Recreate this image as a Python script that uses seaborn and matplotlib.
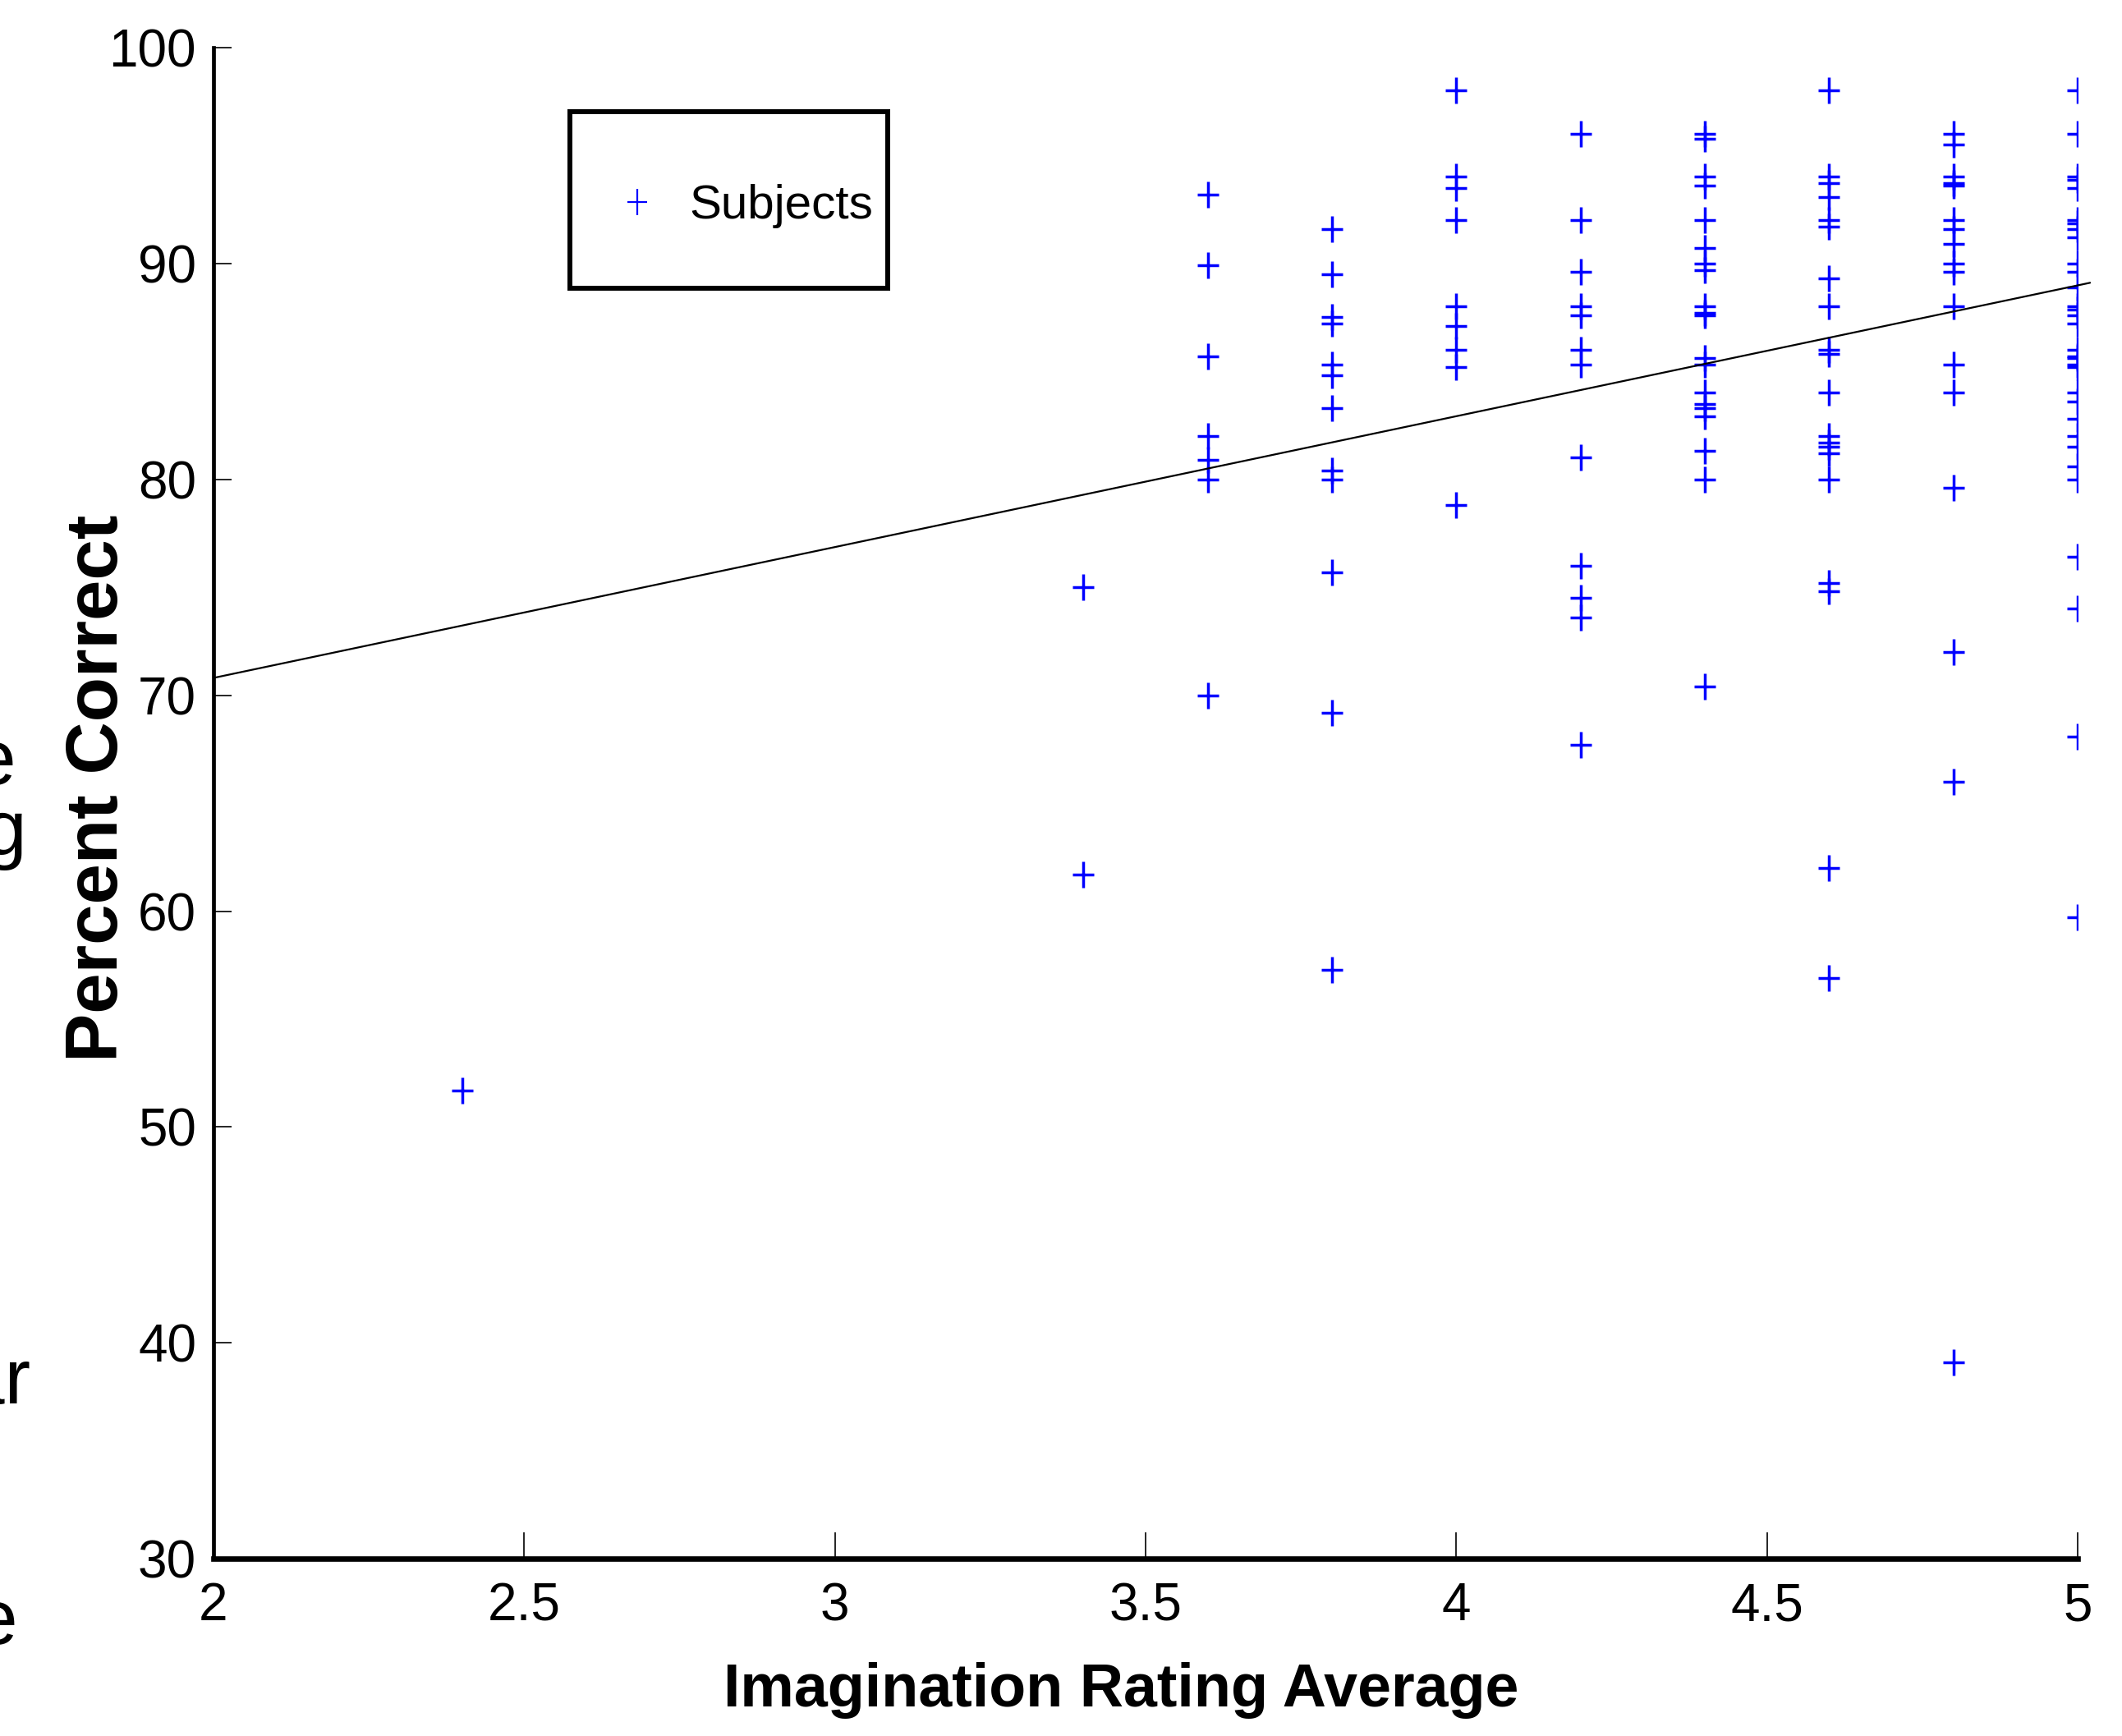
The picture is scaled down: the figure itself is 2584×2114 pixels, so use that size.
import numpy as np
import pandas as pd
import matplotlib
matplotlib.use("Agg")
import matplotlib.pyplot as plt
from matplotlib.path import Path
from matplotlib.lines import Line2D
from matplotlib.legend_handler import HandlerLine2D
from matplotlib import font_manager
import seaborn as sns

# ---- data (percent correct per imagination-rating level) ----
pc_2_4 = [51.7]
pc_3_4 = [75.0, 61.7]
pc_3_6 = [93.2, 89.9, 85.7, 82.0, 80.9, 80.0, 70.0]
pc_3_8 = [91.6, 89.5, 87.5, 87.2, 85.3, 84.8, 83.3, 80.4, 80.0, 75.7, 69.2, 57.3]
pc_4_0 = [98.0, 94.0, 93.5, 92.0, 88.0, 87.1, 86.0, 85.2, 78.8]
pc_4_2 = [96.0, 92.0, 89.6, 88.0, 87.6, 86.0, 85.3, 81.0, 76.0, 74.5, 73.6, 67.7]
pc_4_4 = [96.0, 95.75, 94.0, 93.6, 92.0, 90.7, 90.0, 89.7, 88.0, 87.7, 87.6, 85.6,
          85.3, 84.0, 83.5, 83.3, 82.9, 81.3, 80.0, 70.4]
pc_4_6 = [98.0, 94.0, 93.7, 93.05, 92.0, 91.7, 89.3, 88.0, 86.0, 85.8, 84.0, 82.0,
          81.7, 81.5, 81.2, 80.0, 75.2, 74.8, 62.0, 56.9]
pc_4_8 = [96.0, 95.5, 94.0, 93.7, 93.6, 92.0, 91.6, 90.9, 90.0, 89.6, 88.0, 85.3,
          84.0, 79.6, 72.0, 66.0, 39.1]
pc_5_0 = [98.0, 96.0, 94.0, 93.85, 93.5, 92.0, 91.85, 91.6, 91.2, 90.0, 89.6, 88.9,
          88.0, 87.85, 87.6, 87.2, 86.0, 85.7, 85.6, 85.3, 85.2, 84.0, 83.6, 82.8,
          82.0, 81.5, 80.6, 80.0, 76.4, 74.0, 68.1, 59.7]

rating_levels = [2.4, 3.4, 3.6, 3.8, 4.0, 4.2, 4.4, 4.6, 4.8, 5.0]
percent_groups = [pc_2_4, pc_3_4, pc_3_6, pc_3_8, pc_4_0, pc_4_2, pc_4_4, pc_4_6, pc_4_8, pc_5_0]

# fitted trend line as drawn in the reference (end values)
fit_rating = [2.0, 5.02]
fit_percent = [70.8, 89.1]

x_ticks = [2, 2.5, 3, 3.5, 4, 4.5, 5]
x_tick_labels = ["2", "2.5", "3", "3.5", "4", "4.5", "5"]
y_ticks = [30, 40, 50, 60, 70, 80, 90, 100]
y_tick_labels = ["30", "40", "50", "60", "70", "80", "90", "100"]

df = pd.DataFrame({
    "rating": [r for r, g in zip(rating_levels, percent_groups) for _ in g],
    "percent": [v for g in percent_groups for v in g],
})
fit_df = pd.DataFrame({"rating": fit_rating, "percent": fit_percent})

# ---- style ----
sns.set_theme(style="white")
names = {f.name for f in font_manager.fontManager.ttflist}
narrow = "Liberation Sans Narrow" if "Liberation Sans Narrow" in names else "Liberation Sans"
plt.rcParams["font.family"] = ["Liberation Sans", "DejaVu Sans"]
plt.rcParams["text.color"] = "black"

BLUE = "#0000ff"
plus = Path([(-0.39, 0), (0.39, 0), (0, -0.5), (0, 0.5)],
            [Path.MOVETO, Path.LINETO, Path.MOVETO, Path.LINETO])


class ShiftedHandler(HandlerLine2D):
    """Legend handler that moves the marker down so it sits level with the label."""

    def __init__(self, dy=0.0, **kw):
        super().__init__(**kw)
        self.dy = dy

    def create_artists(self, legend, orig_handle, xdescent, ydescent, width, height,
                       fontsize, trans):
        arts = super().create_artists(legend, orig_handle, xdescent, ydescent, width,
                                      height, fontsize, trans)
        for a in arts:
            a.set_ydata(np.asarray(a.get_ydata(), dtype=float) + self.dy)
        return arts


fig = plt.figure(figsize=(25.84, 21.14), dpi=100)
ax = fig.add_axes([0.1006, 0.1020, 0.8785, 0.8707])

sns.scatterplot(data=df, x="rating", y="percent", marker=plus, s=560,
                color=BLUE, edgecolor=BLUE, linewidth=2.5, ax=ax, legend=False)

sns.lineplot(data=fit_df, x="rating", y="percent", color="black", linewidth=1.6,
             ax=ax, legend=False)
for ln in ax.lines:
    ln.set_clip_on(False)
ax.set_xlim(2, 5)
ax.set_ylim(30, 100)

tick_size = 46
ax.set_xticks(x_ticks)
ax.set_xticklabels(x_tick_labels, fontfamily=narrow, fontsize=tick_size)
ax.set_yticks(y_ticks)
ax.set_yticklabels(y_tick_labels, fontfamily=narrow, fontsize=tick_size)
ax.tick_params(axis="x", direction="in", length=23, width=1.2, color="black", pad=20,
               bottom=True, top=False, labelcolor="black")
ax.tick_params(axis="y", direction="in", length=16, width=1.2, color="black", pad=15,
               left=True, right=False, labelcolor="black")

for side in ["top", "right"]:
    ax.spines[side].set_visible(False)
ax.spines["left"].set_color("black")
ax.spines["left"].set_linewidth(3.4)
ax.spines["bottom"].set_color("black")
ax.spines["bottom"].set_linewidth(4.8)

ax.set_xlabel("Imagination Rating Average", fontfamily=narrow, fontweight="bold",
              fontsize=53, color="black", va="top")
ax.xaxis.set_label_coords(0.487, -0.068)
ax.set_ylabel("Percent Correct", fontweight="bold", fontsize=64, color="black")
ax.yaxis.set_label_coords(-0.043, 0.51)

leg_size = 42
handle = Line2D([], [], marker=plus, linestyle="none", color=BLUE,
                markeredgecolor=BLUE, markersize=23, markeredgewidth=1.6)
leg = ax.legend(handles=[handle], labels=["Subjects"], loc="upper left",
                bbox_to_anchor=(0.1912, 0.9573), borderaxespad=0, frameon=True,
                fancybox=False, framealpha=1, edgecolor="black",
                prop={"family": narrow, "size": leg_size}, borderpad=0.3,
                handlelength=2.2, handleheight=4.03, handletextpad=0.0,
                title=" ", title_fontsize=1, labelspacing=0.2,
                labelcolor="black",
                handler_map={Line2D: ShiftedHandler(dy=-0.52 * leg_size)})
leg.get_frame().set_linewidth(4.3)

# fragments of neighbouring page text cut at the left border
frag_kw = dict(fontsize=68, color="black", ha="right", va="baseline")
fig.text(20 / 2584, 1 - 955 / 2114, "e", **frag_kw)
fig.text(33 / 2584, 1 - 1040 / 2114, "g", **frag_kw)
fig.text(37 / 2584, 1 - 1709 / 2114, "ar", **frag_kw)
fig.text(22 / 2584, 1 - 2002 / 2114, "e", **frag_kw)

fig.savefig("out.png", dpi=100, facecolor="white")
